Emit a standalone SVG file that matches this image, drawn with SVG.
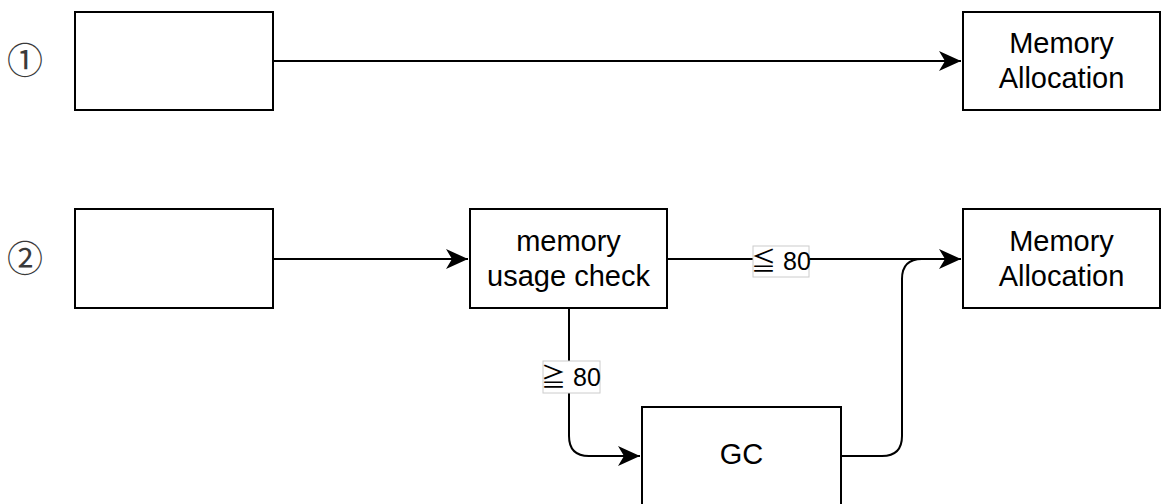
<svg xmlns="http://www.w3.org/2000/svg" width="1162" height="504" viewBox="0 0 1162 504">
  <style>
    .box { fill: #ffffff; stroke: #000000; stroke-width: 2; }
    .txt { font-family: "Liberation Sans", Arial, "Noto Sans CJK JP", sans-serif; font-size: 29px; fill: #000000; text-anchor: middle; }
    .num { font-family: "Noto Sans CJK JP", "DejaVu Sans", sans-serif; font-size: 36px; fill: #3a3a3a; text-anchor: middle; dominant-baseline: central; }
    .edge { fill: none; stroke: #000000; stroke-width: 2; }
    .lbl-bg { fill: #ffffff; stroke: #cccccc; stroke-width: 1; }
    .lbl { font-family: "Liberation Sans", Arial, "Noto Sans CJK JP", sans-serif; font-size: 25px; fill: #000000; text-anchor: middle; }
  </style>
  <defs>
    <marker id="arrow" markerUnits="userSpaceOnUse" markerWidth="24" markerHeight="22" viewBox="-23 -11 24 22" refX="0" refY="0" orient="auto">
      <path d="M0,0 L-22,-10 L-16,0 L-22,10 Z" fill="#000000"/>
    </marker>
  </defs>

  <rect width="1162" height="504" fill="#ffffff"/>

  <!-- step numbers -->
  <text class="num" x="25" y="58">①</text>
  <text class="num" x="25" y="256">②</text>

  <!-- connectors -->
  <g id="connectors">
    <path class="edge" d="M273,61 H961" marker-end="url(#arrow)"/>
    <path class="edge" d="M273,259 H468" marker-end="url(#arrow)"/>
    <path class="edge" d="M667,259 H961" marker-end="url(#arrow)"/>
    <path class="edge" d="M569,308 V436 Q569,456 589,456 H640" marker-end="url(#arrow)"/>
    <path class="edge" d="M841,456 H882 Q902,456 902,436 V279 Q902,259 922,259 H961"/>
    <g id="label-le80">
      <rect class="lbl-bg" x="753" y="246" width="56" height="31"/>
      <text class="lbl" x="781" y="270">≦ 80</text>
    </g>
    <g id="label-ge80">
      <rect class="lbl-bg" x="543" y="361" width="57" height="32"/>
      <text class="lbl" x="571" y="386">≧ 80</text>
    </g>
  </g>

  <!-- nodes -->
  <g id="start1">
    <rect class="box" x="75" y="12" width="198" height="98"/>
  </g>
  <g id="alloc1">
    <rect class="box" x="963" y="12" width="197" height="98"/>
    <text class="txt" x="1061.5" y="53">Memory</text>
    <text class="txt" x="1061.5" y="88">Allocation</text>
  </g>
  <g id="start2">
    <rect class="box" x="75" y="209" width="198" height="99"/>
  </g>
  <g id="check">
    <rect class="box" x="470" y="209" width="197" height="99"/>
    <text class="txt" x="568.5" y="251">memory</text>
    <text class="txt" x="568.5" y="286">usage check</text>
  </g>
  <g id="alloc2">
    <rect class="box" x="963" y="209" width="197" height="99"/>
    <text class="txt" x="1061.5" y="251">Memory</text>
    <text class="txt" x="1061.5" y="286">Allocation</text>
  </g>
  <g id="gc">
    <rect class="box" x="642" y="407" width="199" height="99"/>
    <text class="txt" x="741.5" y="464">GC</text>
  </g>
</svg>
